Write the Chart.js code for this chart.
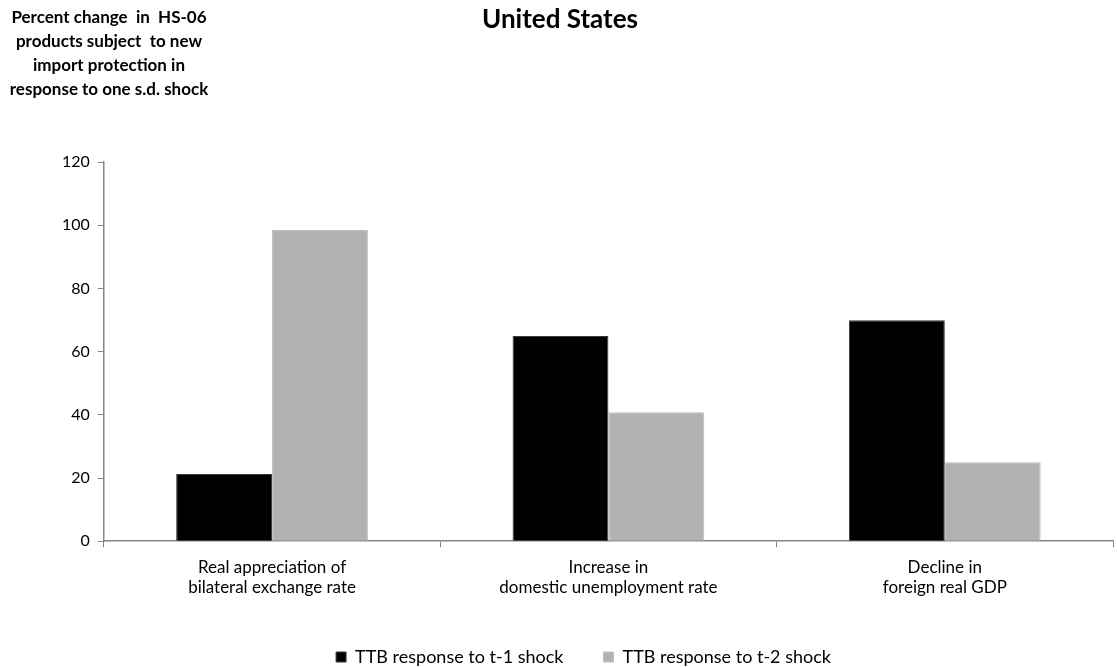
<!DOCTYPE html>
<html>
<head>
<meta charset="utf-8">
<script src="https://cdn.jsdelivr.net/npm/chart.js@4"></script>
<style>
  html, body { margin: 0; padding: 0; background: #fff; }
  #wrap { width: 1117px; height: 667px; position: relative; }
</style>
</head>
<body>
<div id="wrap"><canvas id="myChart" width="1117" height="667"></canvas></div>
<script>
// categories / series
var categories = [
    ["Real appreciation of", "bilateral exchange rate"],
    ["Increase in", "domestic unemployment rate"],
    ["Decline in", "foreign real GDP"]
];
var seriesNames = ["TTB response to t-1 shock", "TTB response to t-2 shock"];
var t1Shock = [21.3, 64.9, 69.9];
var t2Shock = [98.5, 40.8, 25.0];
var yTicks = [0, 20, 40, 60, 80, 100, 120];

var chartTitle = "United States";
var yLabelLines = [
    "Percent change  in  HS-06",
    "products subject  to new",
    "import protection in",
    "response to one s.d. shock"
];

var FONT = "Lato, 'Open Sans', sans-serif";

// title and the corner y-axis label, drawn as text on the canvas
var headerText = {
    id: 'headerText',
    afterDraw: function (chart) {
        var ctx = chart.ctx;
        ctx.save();
        ctx.fillStyle = '#000';
        ctx.textAlign = 'center';
        ctx.textBaseline = 'middle';
        ctx.font = "bold 26px " + FONT;
        ctx.fillText(chartTitle, 560, 20);
        ctx.font = "bold 17px " + FONT;
        for (var i = 0; i < yLabelLines.length; i++) {
            ctx.fillText(yLabelLines[i], 109, 18 + i * 24);
        }
        ctx.restore();
    }
};

const el = document.getElementById("myChart");
var barChart = new Chart(el, {
    type: 'bar',
    data: {
        labels: categories,
        datasets: [
            {
                label: seriesNames[0],
                data: t1Shock,
                backgroundColor: "#000000",
                borderColor: "#3a3a3a",
                borderWidth: 1
            },
            {
                label: seriesNames[1],
                data: t2Shock,
                backgroundColor: "#b2b2b2",
                borderColor: "#bdbdbd",
                borderWidth: 1
            }
        ]
    },
    options: {
        responsive: false,
        animation: false,
        categoryPercentage: 0.57,
        barPercentage: 1.0,
        layout: {
            padding: { left: 54, right: 4, top: 162, bottom: -9 }
        },
        plugins: {
            title: { display: false },
            tooltip: { enabled: false },
            legend: {
                position: 'bottom',
                labels: {
                    boxWidth: 10,
                    boxHeight: 10,
                    padding: 40,
                    color: '#000',
                    font: { family: FONT, size: 18 }
                }
            }
        },
        scales: {
            x: {
                offset: true,
                grid: {
                    offset: true,
                    drawOnChartArea: false,
                    drawTicks: true,
                    tickLength: 6,
                    color: '#868686'
                },
                border: { color: '#868686', width: 1.5 },
                ticks: {
                    color: '#000',
                    padding: 10,
                    maxRotation: 0,
                    font: { family: FONT, size: 17 }
                }
            },
            y: {
                min: 0,
                max: 120,
                afterBuildTicks: function (axis) {
                    axis.ticks = yTicks.map(function (v) { return { value: v }; });
                },
                grid: {
                    drawOnChartArea: false,
                    drawTicks: true,
                    tickLength: 6,
                    color: '#868686'
                },
                border: { color: '#868686', width: 1.5 },
                ticks: {
                    color: '#000',
                    padding: 8,
                    font: { family: FONT, size: 16 }
                }
            }
        }
    },
    plugins: [headerText]
});
</script>
</body>
</html>
